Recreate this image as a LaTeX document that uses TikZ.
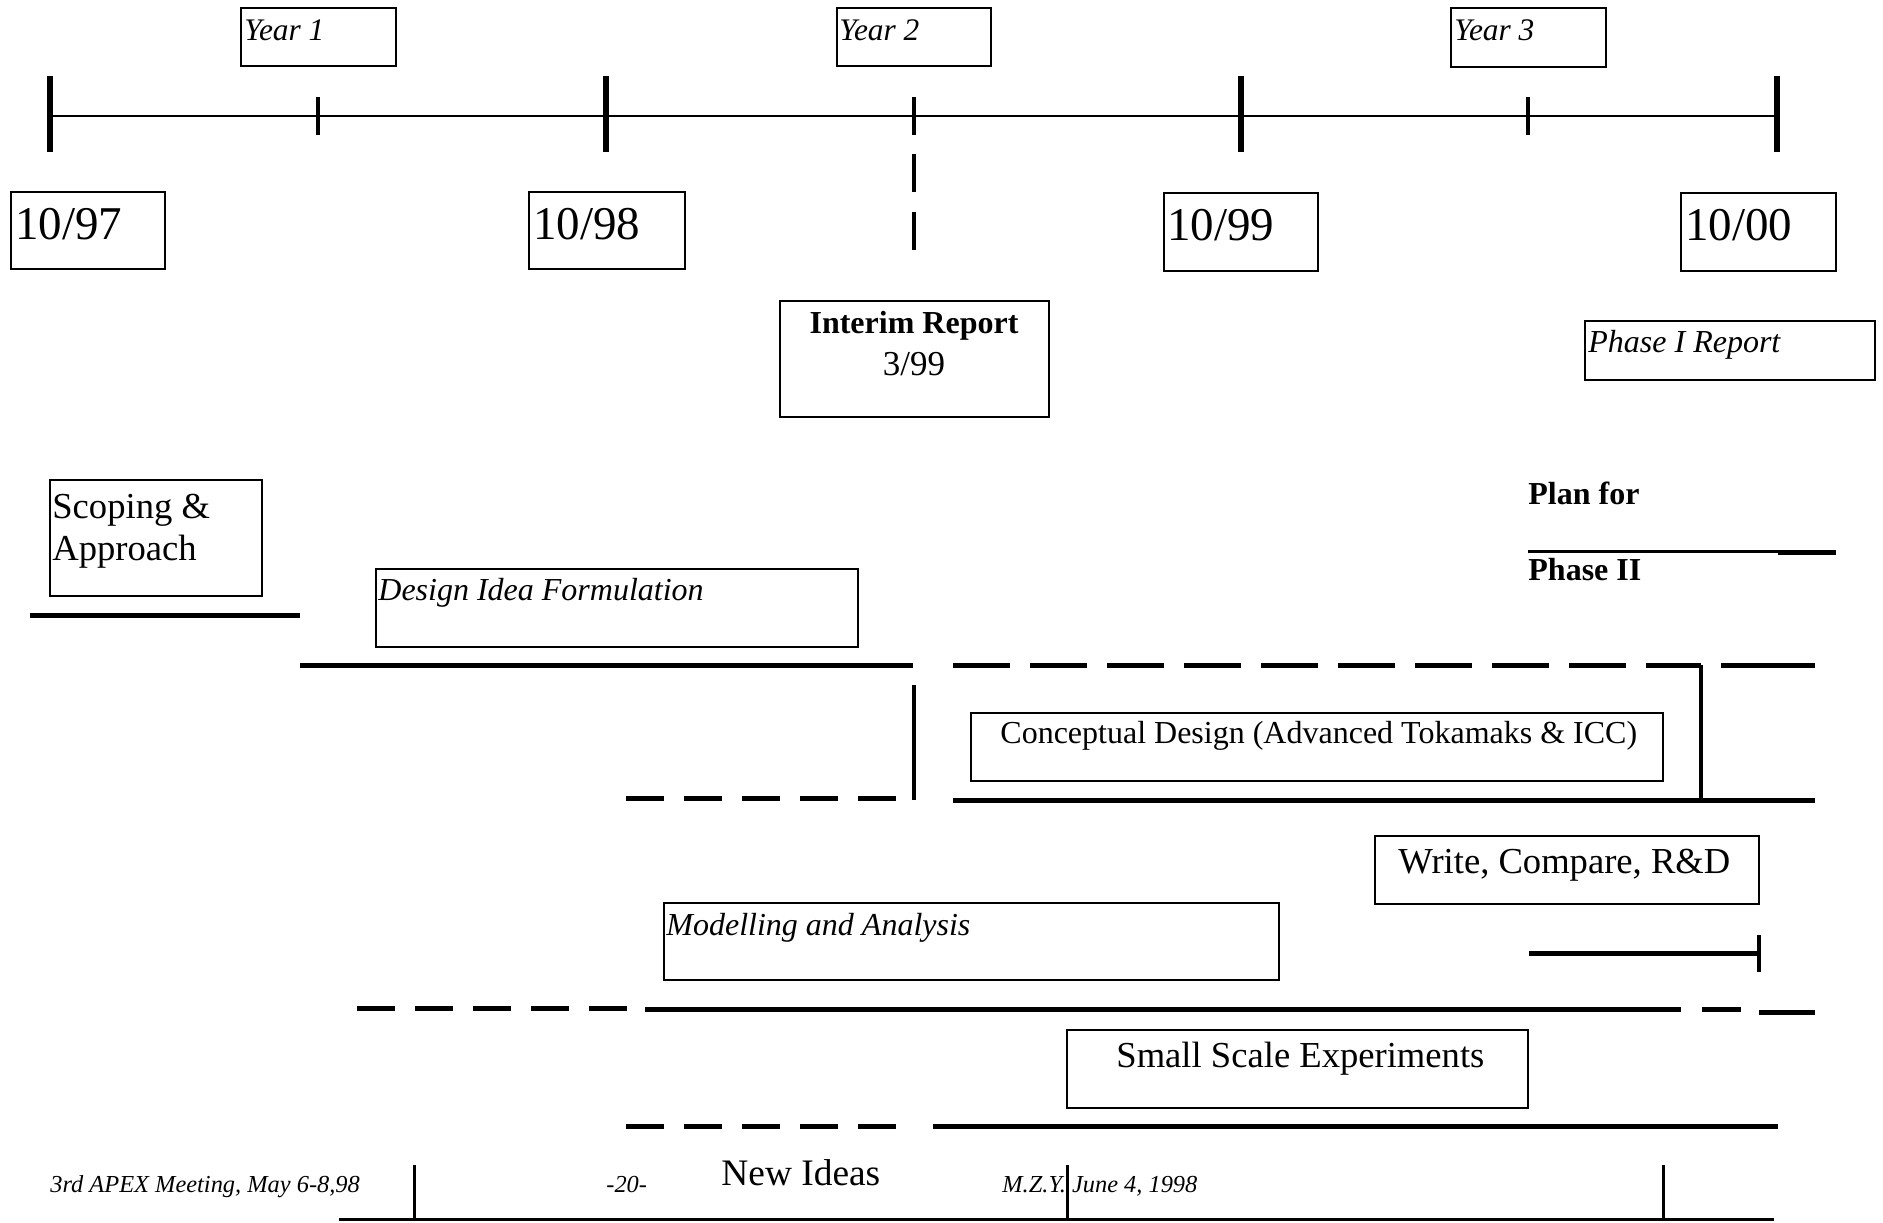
\documentclass[tikz,border=0pt]{standalone}
\usepackage{fontspec}
\setmainfont{Liberation Serif}

\begin{document}
\begin{tikzpicture}[x=0.5pt,y=-0.5pt,
  box/.style={line width=0.8pt},
  bar/.style={line width=2.5pt},
  gapbar/.style={line width=2.5pt,dash pattern=on 19pt off 10pt},
  longgap/.style={line width=2.5pt,dash pattern=on 28.5pt off 10pt},
  txt/.style={anchor=base west,inner sep=0pt},
  yeartxt/.style={txt,font=\fontsize{15.7}{19}\selectfont\itshape},
  datetxt/.style={txt,font=\fontsize{23.5}{28}\selectfont},
  bigtxt/.style={txt,font=\fontsize{18.3}{21}\selectfont},
  midtxt/.style={txt,font=\fontsize{16}{19}\selectfont},
  ittxt/.style={txt,font=\fontsize{16}{19}\selectfont\itshape},
  bftxt/.style={txt,font=\fontsize{16}{19}\selectfont\bfseries},
  foottxt/.style={txt,font=\fontsize{12.2}{14}\selectfont\itshape}]
  \useasboundingbox (0,0) rectangle (1883,1222);

%% time axis with year and quarter ticks
  \draw[line width=1pt] (50,116) -- (1777,116);
  \foreach \x in {50,606,1241,1777} \draw[line width=3pt] (\x,76) -- (\x,152);
  \foreach \x in {318,914,1528} \draw[line width=2pt] (\x,97) -- (\x,135);
  \draw[line width=2pt,dash pattern=on 19pt off 10pt] (914,154) -- (914,250);

%% year labels
  \draw[box] (241,8) rectangle (396,66);
  \node (yearone) at (244,40) [yeartxt] {Year 1};
  \draw[box] (837,8) rectangle (991,66);
  \node (yeartwo) at (839,40) [yeartxt] {Year 2};
  \draw[box] (1451,8) rectangle (1606,67);
  \node (yearthree) at (1454,40) [yeartxt] {Year 3};

%% dates
  \draw[box] (11,192) rectangle (165,269);
  \node (d97) at (15,239) [datetxt] {10/97};
  \draw[box] (529,192) rectangle (685,269);
  \node (d98) at (533,239) [datetxt] {10/98};
  \draw[box] (1164,193) rectangle (1318,271);
  \node (d99) at (1167,240) [datetxt] {10/99};
  \draw[box] (1681,193) rectangle (1836,271);
  \node (d00) at (1685,240) [datetxt] {10/00};

%% reports
  \draw[box] (780,301) rectangle (1049,417);
  \node (interim) at (914,333) [anchor=base,inner sep=0pt,font=\fontsize{16}{19}\selectfont\bfseries] {Interim Report};
  \node (interimdate) at (914,375) [anchor=base,inner sep=0pt,font=\fontsize{17.5}{21}\selectfont] {3/99};
  \draw[box] (1585,321) rectangle (1875,380);
  \node (phaseone) at (1588,352) [ittxt] {Phase I Report};

%% plan for phase II
  \node (planfor) at (1528,504) [bftxt] {Plan for};
  \draw[line width=1.5pt] (1528,551) -- (1778,551);
  \draw[bar] (1778,552) -- (1836,552);
  \node (phasetwo) at (1528,580) [bftxt] {Phase II};

%% scoping
  \draw[box] (50,480) rectangle (262,596);
  \node (scoping) at (52,560) [bigtxt,align=left] {Scoping \&\\Approach};
  \draw[bar] (30,615) -- (300,615);

%% design ideas
  \draw[box] (376,569) rectangle (858,647);
  \node (design) at (378,600) [ittxt] {Design Idea Formulation};
  \draw[bar] (300,665) -- (913,665);
  \draw[longgap] (953,665) -- (1701,665);
  \draw[bar] (1721,665) -- (1815,665);

%% conceptual design
  \draw[line width=2pt] (914,685) -- (914,800);
  \draw[gapbar] (626,798) -- (896,798);
  \draw[line width=2pt] (1701,665) -- (1701,800);
  \draw[bar] (953,800) -- (1815,800);
  \draw[box] (971,713) rectangle (1663,781);
  \node (concept) at (1000,743) [midtxt] {Conceptual Design (Advanced Tokamaks \& ICC)};

%% write up
  \draw[box] (1375,836) rectangle (1759,904);
  \node (write) at (1398,873) [bigtxt] {Write, Compare, R\&D};
  \draw[bar] (1529,953) -- (1759,953);
  \draw[line width=2pt] (1759,935) -- (1759,972);

%% modelling
  \draw[box] (664,903) rectangle (1279,980);
  \node (model) at (666,935) [ittxt] {Modelling and Analysis};
  \draw[gapbar] (357,1008) -- (627,1008);
  \draw[bar] (645,1009) -- (1681,1009);
  \draw[bar] (1702,1009) -- (1741,1009);
  \draw[bar] (1759,1012) -- (1815,1012);

%% experiments
  \draw[box] (1067,1030) rectangle (1528,1108);
  \node (small) at (1116,1067) [bigtxt] {Small Scale Experiments};
  \draw[gapbar] (626,1126) -- (896,1126);
  \draw[bar] (933,1126) -- (1778,1126);

%% new ideas
  \node (newideas) at (721,1185) [txt,font=\fontsize{18.7}{22}\selectfont] {New Ideas};

%% footer
  \foreach \x in {414,1067,1663} \draw[line width=1.5pt] (\x,1165) -- (\x,1219);
  \draw[line width=1.5pt] (339,1219) -- (1774,1219);
  \node (footleft) at (50,1192) [foottxt] {3rd APEX Meeting, May 6-8,98};
  \node (footpage) at (606,1192) [foottxt] {-20-};
  \node (footright) at (1002,1192) [foottxt] {M.Z.Y. June 4, 1998};

\end{tikzpicture}
\end{document}
